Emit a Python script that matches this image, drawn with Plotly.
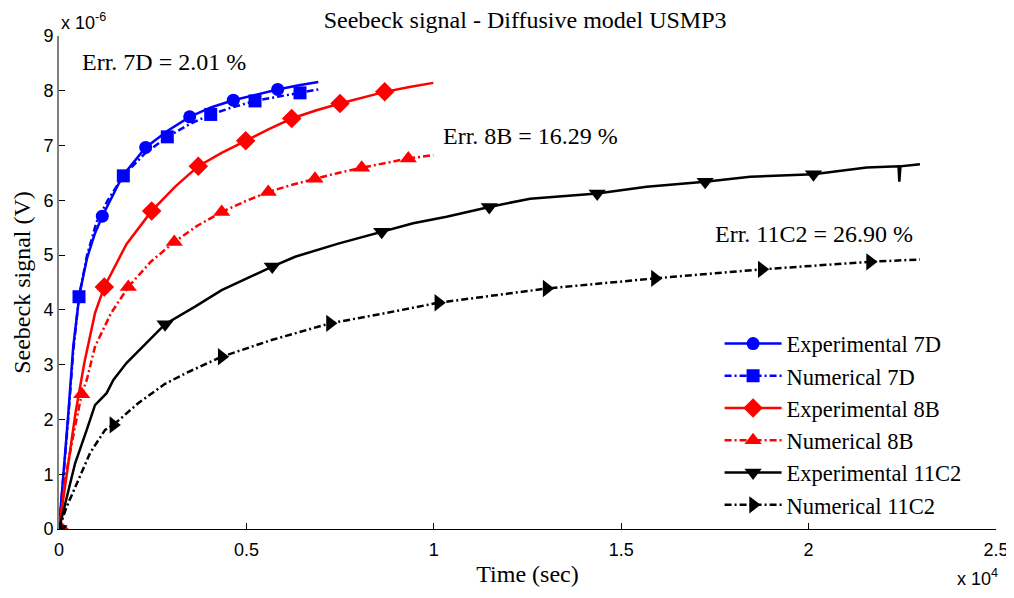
import plotly.graph_objects as go

# ---------------- data (time in s, signal in units of 1e-6 V) ----------------
t_exp7d = [0, 110, 250, 380, 550, 750, 950, 1155, 1700, 2313, 2900, 3487, 4070, 4651, 5240, 5835, 6400, 6918]
v_exp7d = [0, 0.9, 2.12, 3.33, 4.3, 4.95, 5.38, 5.71, 6.45, 6.965, 7.27, 7.524, 7.70, 7.828, 7.93, 8.024, 8.10, 8.162]
t_num7d = [0, 110, 250, 380, 534, 750, 1000, 1300, 1716, 2300, 2890, 3480, 4048, 4640, 5230, 5830, 6430, 6918]
v_num7d = [0, 0.85, 2.05, 3.25, 4.24, 5.0, 5.6, 6.0, 6.447, 6.86, 7.159, 7.39, 7.568, 7.70, 7.815, 7.89, 7.962, 8.024]

t_exp8b = [0, 115, 250, 440, 675, 960, 1209, 1800, 2473, 3100, 3717, 4350, 4981, 5600, 6209, 6850, 7497, 8100, 8690, 9350, 9987]
v_exp8b = [0, 0.58, 1.2, 2.12, 3.03, 3.94, 4.42, 5.2, 5.807, 6.25, 6.624, 6.87, 7.086, 7.30, 7.494, 7.64, 7.768, 7.88, 7.98, 8.07, 8.144]
t_num8b = [0, 160, 410, 606, 740, 960, 1390, 1849, 2450, 3076, 3700, 4341, 4960, 5584, 6200, 6830, 7450, 8076, 8700, 9320, 9987]
v_num8b = [0, 0.9, 1.81, 2.46, 2.72, 3.33, 3.94, 4.42, 4.88, 5.24, 5.54, 5.787, 5.98, 6.152, 6.28, 6.395, 6.50, 6.595, 6.68, 6.764, 6.825]

t_exp11 = [0, 200, 430, 740, 960, 1270, 1450, 1800, 2470, 2830, 3630, 4340, 5690, 6300, 7450, 8610, 9450, 10340,
           11480, 12570, 14360, 15680, 17240, 18440, 20130, 21550, 22400, 22420, 22450, 22970]
v_exp11 = [0, 0.58, 1.2, 1.81, 2.26, 2.48, 2.72, 3.03, 3.48, 3.74, 4.06, 4.36, 4.79, 4.97, 5.21, 5.425, 5.58, 5.70,
           5.88, 6.03, 6.126, 6.246, 6.34, 6.43, 6.478, 6.60, 6.62, 6.34, 6.62, 6.66]
t_num11 = [0, 200, 520, 830, 1230, 1450, 2120, 2830, 3400, 4340, 5670, 7230, 8700, 10120, 13010, 15900, 18750, 21640, 22970]
v_num11 = [0, 0.4, 0.9, 1.39, 1.81, 1.9, 2.3, 2.65, 2.85, 3.145, 3.45, 3.754, 3.94, 4.13, 4.39, 4.575, 4.74, 4.878, 4.92]

# marker positions
mt_exp7d = [0, 1155, 2313, 3487, 4651, 5835]
mv_exp7d = [0, 5.71, 6.965, 7.524, 7.828, 8.024]
mt_num7d = [534, 1716, 2890, 4048, 5230, 6430]
mv_num7d = [4.24, 6.447, 7.159, 7.568, 7.815, 7.962]
mt_exp8b = [0, 1209, 2473, 3717, 4981, 6209, 7497, 8690]
mv_exp8b = [0, 4.42, 5.807, 6.624, 7.086, 7.494, 7.768, 7.98]
mt_num8b = [606, 1849, 3076, 4341, 5584, 6830, 8076, 9320]
mv_num8b = [2.46, 4.42, 5.24, 5.787, 6.152, 6.395, 6.595, 6.764]
mt_exp11 = [0, 2830, 5690, 8610, 11480, 14360, 17240, 20130]
mv_exp11 = [0, 3.74, 4.79, 5.425, 5.88, 6.126, 6.34, 6.478]
mt_num11 = [1450, 4340, 7230, 10120, 13010, 15900, 18750, 21640]
mv_num11 = [1.9, 3.145, 3.754, 4.13, 4.39, 4.575, 4.74, 4.878]

names = ["Experimental 7D", "Numerical 7D", "Experimental 8B", "Numerical 8B",
         "Experimental 11C2", "Numerical 11C2"]
x_ticks = [0, 5000, 10000, 15000, 20000, 25000]
x_tick_text = ["0", "0.5", "1", "1.5", "2", "2.5"]
y_ticks = [0, 1, 2, 3, 4, 5, 6, 7, 8, 9]
err_texts = ["Err. 7D = 2.01 %", "Err. 8B = 16.29 %", "Err. 11C2 = 26.90 %"]
err_x = [560, 10200, 17440]
err_y = [8.52, 7.17, 5.38]

SERIF = "Liberation Serif, Times New Roman, serif"
SANS = "Liberation Sans, Arial, sans-serif"
DASHDOT = "7px,3px,2px,3px"

series = [
    (t_exp7d, v_exp7d, mt_exp7d, mv_exp7d, "#0000ff", "solid", "circle", 13),
    (t_num7d, v_num7d, mt_num7d, mv_num7d, "#0000ff", DASHDOT, "square", 13),
    (t_exp8b, v_exp8b, mt_exp8b, mv_exp8b, "#ff0000", "solid", "diamond", 15),
    (t_num8b, v_num8b, mt_num8b, mv_num8b, "#ff0000", DASHDOT, "triangle-up", 15),
    (t_exp11, v_exp11, mt_exp11, mv_exp11, "#000000", "solid", "triangle-down", 15),
    (t_num11, v_num11, mt_num11, mv_num11, "#000000", DASHDOT, "triangle-right", 15),
]

fig = go.Figure()
for name, (tx, vy, mx, my, col, dash, sym, ms) in zip(names, series):
    fig.add_trace(go.Scatter(x=tx, y=vy, mode="lines", showlegend=False,
                             line=dict(color=col, width=2.5, dash=dash), hoverinfo="skip"))
    fig.add_trace(go.Scatter(x=mx, y=my, mode="markers", showlegend=False,
                             marker=dict(color=col, symbol=sym, size=ms, line=dict(width=0))))
    fig.add_trace(go.Scatter(x=[None], y=[None], mode="lines+markers", name=name,
                             line=dict(color=col, width=2.5, dash=dash),
                             marker=dict(color=col, symbol=sym, size=ms, line=dict(width=0))))

for txt, ex, ey in zip(err_texts, err_x, err_y):
    fig.add_annotation(x=ex, y=ey, text=txt, showarrow=False, xanchor="left", yanchor="middle",
                       font=dict(family=SERIF, size=24, color="black"))

fig.add_annotation(xref="paper", yref="paper", x=0.0, y=1.0, yshift=1, text="x 10<sup>-6</sup>",
                   showarrow=False, xanchor="left", yanchor="bottom",
                   font=dict(family=SANS, size=18, color="black"))
fig.add_annotation(xref="paper", yref="paper", x=1.004, y=0, yshift=-35, text="x 10<sup>4</sup>",
                   showarrow=False, xanchor="right", yanchor="top",
                   font=dict(family=SANS, size=18, color="black"))

# the page body adds an 8 px offset, so the figure is sized to fit inside the window
fig.update_layout(
    width=1006, height=590,
    margin=dict(l=51, r=18, t=28, b=69, autoexpand=False),
    paper_bgcolor="white", plot_bgcolor="white",
    title=dict(text="Seebeck signal - Diffusive model USMP3", x=0.514, xanchor="center",
               y=0.981, yref="container", yanchor="middle",
               font=dict(family=SERIF, size=24, color="black")),
    legend=dict(x=0.705, y=0.419, xanchor="left", yanchor="top", bgcolor="rgba(0,0,0,0)",
                font=dict(family=SERIF, size=22.5, color="black"), itemwidth=57,
                tracegroupgap=0),
    showlegend=True,
)
fig.update_xaxes(range=[0, 25000], tickvals=x_ticks, ticktext=x_tick_text, automargin=False,
                 showgrid=False, zeroline=False, showline=True, linecolor="black", linewidth=1.2,
                 ticks="inside", ticklen=6, tickcolor="black", tickwidth=1, ticklabelstandoff=4,
                 tickfont=dict(family=SANS, size=18, color="black"),
                 title=dict(text="Time (sec)", font=dict(family=SERIF, size=24, color="black"), standoff=6))
fig.update_yaxes(range=[0, 9], tickvals=y_ticks, automargin=False,
                 showgrid=False, zeroline=False, showline=True, linecolor="#808080", linewidth=2,
                 ticks="inside", ticklen=6, tickcolor="black", tickwidth=1,
                 tickfont=dict(family=SANS, size=18, color="black"),
                 title=dict(text="Seebeck signal (V)", font=dict(family=SERIF, size=24, color="black"), standoff=6))

fig.write_html("out.html")
